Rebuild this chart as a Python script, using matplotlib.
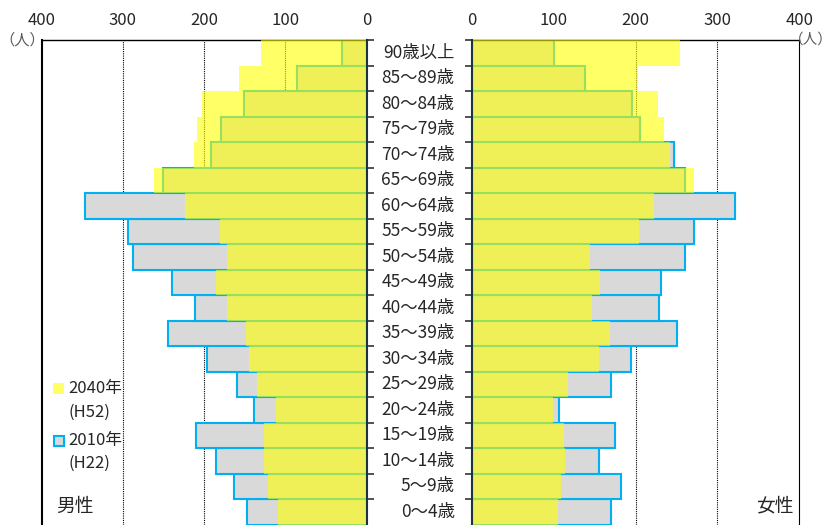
"""
    Population pyramid: 2010 (H22) vs 2040 (H52), male / female
"""

import numpy as np
import matplotlib.pyplot as plt
from matplotlib.patches import Rectangle

plt.rcParams['font.family'] = ['Noto Sans CJK JP', 'DejaVu Sans']

# age groups, bottom to top
ages = ["0～4歳", "5～9歳", "10～14歳", "15～19歳", "20～24歳", "25～29歳",
        "30～34歳", "35～39歳", "40～44歳", "45～49歳", "50～54歳", "55～59歳",
        "60～64歳", "65～69歳", "70～74歳", "75～79歳", "80～84歳", "85～89歳",
        "90歳以上"]

male_2010 = [147, 163, 185, 210, 139, 159, 196, 244, 211, 239, 287, 293,
             347, 250, 192, 179, 151, 86, 30]
male_2040 = [109, 122, 126, 126, 112, 135, 145, 149, 172, 185, 172, 180,
             224, 262, 213, 209, 203, 157, 130]
female_2010 = [170, 182, 155, 175, 107, 170, 194, 251, 229, 231, 260, 271,
               322, 261, 247, 205, 196, 138, 100]
female_2040 = [105, 109, 114, 113, 99, 118, 155, 169, 147, 157, 144, 204,
               223, 271, 242, 235, 227, 203, 254]

xticks = [0, 100, 200, 300, 400]

YELLOW = "#ffff00"
GRAY = "#d9d9d9"
BLUE = "#00b0f0"
TEXT = "#262626"

W, H = 834, 525
fig = plt.figure(figsize=(W / 100, H / 100), dpi=100)


def px(x, yy):
    """pixel position (from top-left) -> figure fraction"""
    return x / W, 1 - yy / H


top = 1 - 40 / H
bottom = (H - 524.5) / H
ax_m = fig.add_axes([41.5 / W, bottom, (366.7 - 41.5) / W, top - bottom])
ax_f = fig.add_axes([471.7 / W, bottom, (799.3 - 471.7) / W, top - bottom])

y = np.arange(len(ages))

for ax, old, new in [(ax_m, male_2010, male_2040), (ax_f, female_2010, female_2040)]:
    ax.barh(y, old, height=1.0, color=GRAY, edgecolor=BLUE, linewidth=1.5, zorder=2)
    ax.barh(y, new, height=1.0, color=YELLOW, alpha=0.6, linewidth=0, zorder=3)
    for g in [100, 200, 300]:
        ax.axvline(g, color="black", linestyle=(0, (1, 1)), linewidth=0.8, zorder=1)
    ax.set_xlim(0, 400)
    ax.set_ylim(-0.5, len(ages) - 0.5)
    ax.set_xticks(xticks)
    ax.xaxis.tick_top()
    ax.tick_params(axis="x", length=0, pad=8, labelsize=12, labelcolor=TEXT)
    ax.set_yticks(y + 0.5)
    ax.set_yticklabels([])
    ax.tick_params(axis="y", length=5, width=1.2, color="#333333", direction="out")
    ax.spines["bottom"].set_visible(False)
    ax.spines["top"].set_linewidth(1.0)

# male side goes right-to-left
ax_m.invert_xaxis()
ax_m.yaxis.tick_right()
ax_m.spines["right"].set_color("#1a3340")
ax_m.spines["right"].set_linewidth(1.5)
ax_m.spines["right"].set_zorder(5)
ax_m.spines["left"].set_linewidth(1.5)

ax_f.spines["left"].set_color("#1a3340")
ax_f.spines["left"].set_linewidth(1.5)
ax_f.spines["left"].set_zorder(5)

# age labels in the middle (right-aligned in the gap)
for i, lab in enumerate(ages):
    ax_f.text(-17 / 0.819, i, lab, ha="right", va="center", fontsize=12.5,
              color=TEXT, clip_on=False)

# unit labels
fig.text(*px(22, 40), "（人）", ha="center", va="center", fontsize=11, color="#595959")
fig.text(*px(833, 40), "（人）", ha="right", va="center", fontsize=10.5, color="#595959")

# legend
fig.add_artist(Rectangle(px(53, 394), 11 / W, 11 / H, transform=fig.transFigure,
                         facecolor=YELLOW, alpha=0.6, linewidth=0))
fig.text(*px(68, 389), "2040年", ha="left", va="center", fontsize=12, color=TEXT)
fig.text(*px(68, 412), "(H52)", ha="left", va="center", fontsize=12, color=TEXT)
fig.add_artist(Rectangle(px(54, 445.5), 10 / W, 10 / H, transform=fig.transFigure,
                         facecolor=GRAY, edgecolor=BLUE, linewidth=1.5))
fig.text(*px(68, 440), "2010年", ha="left", va="center", fontsize=12, color=TEXT)
fig.text(*px(68, 463), "(H22)", ha="left", va="center", fontsize=12, color=TEXT)

fig.text(*px(75, 506), "男性", ha="center", va="center", fontsize=13.5, color=TEXT)
fig.text(*px(775, 506), "女性", ha="center", va="center", fontsize=13.5, color=TEXT)

fig.savefig("out.png", dpi=100)
